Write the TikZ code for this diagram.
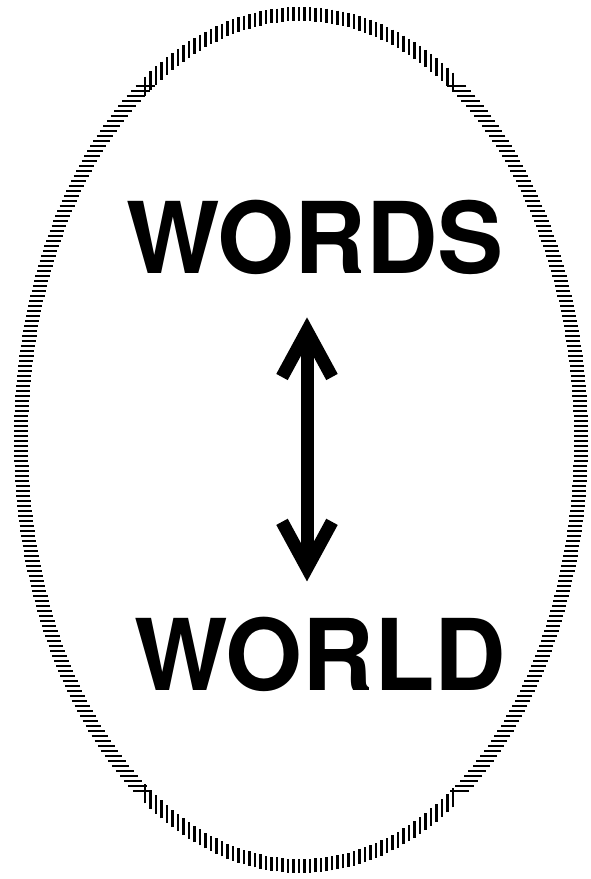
\documentclass[tikz,border=0pt]{standalone}
\usepackage{fontspec}
\setmainfont{TeX Gyre Heros}
\usetikzlibrary{arrows.meta}

\begin{document}
\begin{tikzpicture}[x=1pt,y=-1pt,
    word/.style={font=\fontsize{99}{99}\selectfont\bfseries, inner sep=0pt, anchor=base},
    link/.style={line width=13pt, {Straight Barb[length=46pt,width=50pt]}-{Straight Barb[length=46pt,width=50pt]}},
    hatch/.style={line width=2.6pt}]
    \useasboundingbox (0,0) rectangle (591,879);

    % Mittelpunkt der Ellipse
    \def\cx{301}
    \def\cy{440}

    % Schraffierter Rand, oben und unten senkrecht
    \foreach \x in {-156,-150.5,...,156} {
      \pgfmathsetmacro\yo{433*sqrt(1-(\x/287)^2)}
      \pgfmathsetmacro\yi{419*sqrt(1-(\x/273)^2)}
      \draw[hatch] (\cx+\x,\cy-\yo) -- (\cx+\x,\cy-\yi);
      \draw[hatch] (\cx+\x,\cy+\yo) -- (\cx+\x,\cy+\yi);
    }
    % links und rechts waagrecht
    \foreach \y in {-354,-349,...,354} {
      \pgfmathsetmacro\xo{287*sqrt(1-(\y/433)^2)}
      \pgfmathsetmacro\xi{273*sqrt(1-(\y/419)^2)}
      \draw[hatch] (\cx-\xo,\cy+\y) -- (\cx-\xi,\cy+\y);
      \draw[hatch] (\cx+\xo,\cy+\y) -- (\cx+\xi,\cy+\y);
    }

    % Texte
    \node[word] (words) at (315,273) {WORDS};
    \node[word] (world) at (320,690) {WORLD};

    % Doppelpfeil
    \draw[link] ([xshift=-8pt,yshift=-43pt]words.south) -- ([xshift=-13pt,yshift=35pt]world.north);
\end{tikzpicture}
\end{document}
